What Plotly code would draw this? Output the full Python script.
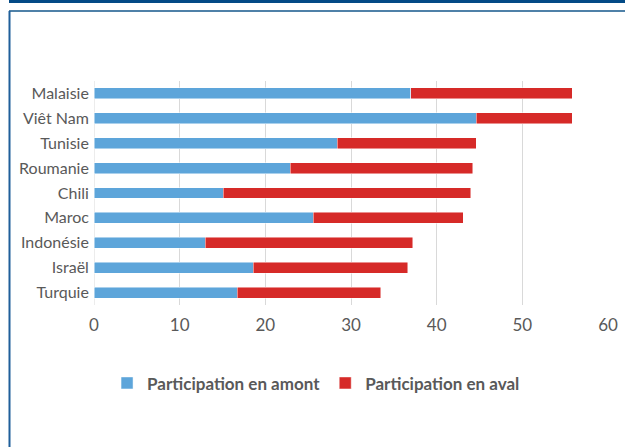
import plotly.graph_objects as go

countries = ["Malaisie", "Viêt Nam", "Tunisie", "Roumanie", "Chili", "Maroc", "Indonésie", "Israël", "Turquie"]
amont = [37.0, 44.6, 28.4, 22.9, 15.1, 25.6, 13.0, 18.6, 16.7]
aval = [18.8, 11.2, 16.2, 21.3, 28.9, 17.5, 24.2, 18.0, 16.8]
x_ticks = [0, 10, 20, 30, 40, 50, 60]

W, H = 625, 447
L, R, T, B = 94, 17, 81, 142
PW, PH = W - L - R, H - T - B

def px(x):
    return (x - L) / PW

def py(y):
    return (H - B - y) / PH

fig = go.Figure()
fig.add_trace(go.Bar(
    y=countries, x=amont, orientation="h", name="Participation en amont",
    marker=dict(color="#5DA5DA", line=dict(color="rgba(255,255,255,0.6)", width=0.8)),
))
fig.add_trace(go.Bar(
    y=countries, x=aval, orientation="h", name="Participation en aval",
    marker=dict(color="#D62A28", line=dict(color="rgba(255,255,255,0.6)", width=0.8)),
))

shapes = [
    dict(type="rect", xref="paper", yref="paper", x0=px(9), x1=px(625), y0=py(3), y1=py(0),
         fillcolor="#034A86", line=dict(width=0), layer="above"),
    dict(type="line", xref="paper", yref="paper", x0=px(9), x1=px(625), y0=py(11), y1=py(11),
         line=dict(color="#4F81A8", width=2)),
    dict(type="line", xref="paper", yref="paper", x0=px(9.5), x1=px(9.5), y0=py(11), y1=py(447),
         line=dict(color="#1F5F9A", width=2)),
    dict(type="line", xref="x", yref="paper", x0=0, x1=0, y0=0, y1=1,
         line=dict(color="#D9D9D9", width=1), layer="below"),
]

fig.update_layout(
    width=W, height=H,
    margin=dict(l=L, r=R, t=T, b=B, autoexpand=False),
    paper_bgcolor="white", plot_bgcolor="white",
    barmode="stack", bargap=0.56,
    font=dict(family="Lato, sans-serif", color="#595959", size=16),
    showlegend=True,
    legend=dict(orientation="h", x=0.432, xanchor="center", y=-0.35, yanchor="middle",
                font=dict(size=17, color="#595959", family="Lato, sans-serif", weight="bold"),
                itemwidth=30, traceorder="normal", itemclick=False),
    shapes=shapes,
    xaxis=dict(range=[0, 60], tickvals=x_ticks, showgrid=True, gridcolor="#D9D9D9", gridwidth=1,
               zeroline=False, showline=False, ticks="", tickfont=dict(size=17, color="#595959"),
               ticklabelstandoff=8, fixedrange=True, automargin=False),
    yaxis=dict(categoryorder="array", categoryarray=countries, autorange="reversed",
               showgrid=False, ticks="", showline=False, ticksuffix=" ",
               tickfont=dict(size=16, color="#595959"), fixedrange=True, automargin=False),
)

fig.write_html(
    "out.html",
    config={"displayModeBar": False},
    post_script="document.body.style.margin='0';document.body.style.overflow='hidden';"
                "document.documentElement.style.overflow='hidden';",
)
